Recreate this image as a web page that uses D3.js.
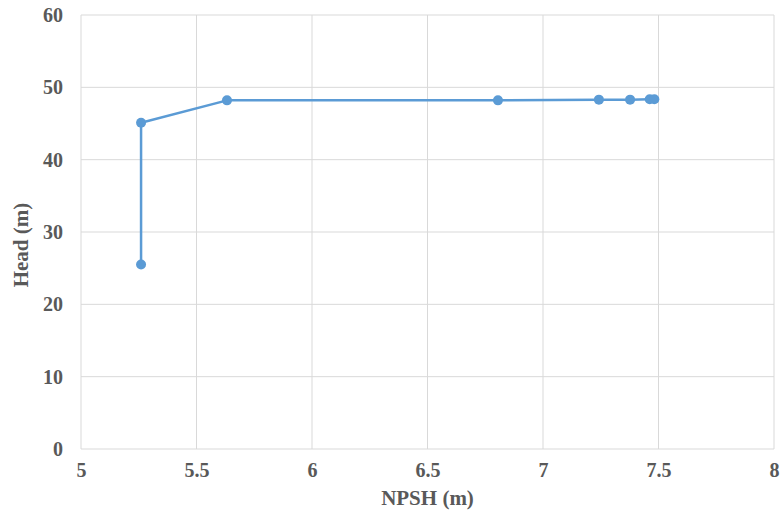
<!DOCTYPE html>
<html>
<head>
<meta charset="utf-8">
<script src="https://cdn.jsdelivr.net/npm/d3@7"></script>
<style>
  html, body { margin: 0; padding: 0; background: #fff; }
  svg { display: block; }
</style>
</head>
<body>
<svg id="chart" width="781" height="515"></svg>
<script>
// Data
const npsh = [5.26, 5.26, 5.632, 6.805, 7.242, 7.377, 7.462, 7.482];
const head = [25.5, 45.1, 48.2, 48.2, 48.3, 48.3, 48.35, 48.35];
const xTicks = [5, 5.5, 6, 6.5, 7, 7.5, 8];
const yTicks = [0, 10, 20, 30, 40, 50, 60];
const xTitle = "NPSH (m)";
const yTitle = "Head (m)";

(function () {
const svg = d3.select("#chart");
const mLeft = 81, mRight = 774, mTop = 15, mBottom = 449;

const x = d3.scaleLinear().domain([5, 8]).range([mLeft, mRight]);
const y = d3.scaleLinear().domain([0, 60]).range([mBottom, mTop]);

const font = "'Liberation Serif', 'Times New Roman', serif";
const grey = "#595959";
const gridCol = "#d9d9d9";

// gridlines
svg.append("g").selectAll("line").data(xTicks).join("line")
  .attr("x1", d => x(d)).attr("x2", d => x(d))
  .attr("y1", mTop).attr("y2", mBottom)
  .attr("stroke", gridCol).attr("stroke-width", 1);
svg.append("g").selectAll("line").data(yTicks).join("line")
  .attr("x1", mLeft).attr("x2", mRight)
  .attr("y1", d => y(d)).attr("y2", d => y(d))
  .attr("stroke", gridCol).attr("stroke-width", 1);

// axes (labels only)
const xAxis = d3.axisBottom(x).tickValues(xTicks).tickSize(0).tickPadding(14).tickFormat(d3.format("~g"));
const gx = svg.append("g").attr("transform", `translate(0,${mBottom})`).call(xAxis);
gx.select(".domain").remove();
gx.selectAll("text").attr("font-family", font).attr("font-weight", "bold")
  .attr("font-size", 20).attr("fill", grey);

const yAxis = d3.axisLeft(y).tickValues(yTicks).tickSize(0).tickPadding(18).tickFormat(d3.format("~g"));
const gy = svg.append("g").attr("transform", `translate(${mLeft},0)`).call(yAxis);
gy.select(".domain").remove();
gy.selectAll("text").attr("font-family", font).attr("font-weight", "bold")
  .attr("font-size", 20).attr("fill", grey);

// titles
svg.append("text").attr("x", (mLeft + mRight) / 2).attr("y", 505)
  .attr("text-anchor", "middle").attr("font-family", font).attr("font-weight", "bold")
  .attr("font-size", 21).attr("fill", grey).text(xTitle);
svg.append("text").attr("transform", `translate(28,245) rotate(-90)`)
  .attr("text-anchor", "middle").attr("font-family", font).attr("font-weight", "bold")
  .attr("font-size", 21).attr("fill", grey).text(yTitle);

// series
const pts = npsh.map((v, i) => [v, head[i]]);
const color = "#5b9bd5";
svg.append("path").datum(pts)
  .attr("d", d3.line().x(d => x(d[0])).y(d => y(d[1])))
  .attr("fill", "none").attr("stroke", color).attr("stroke-width", 2.5)
  .attr("stroke-linejoin", "round");
svg.append("g").selectAll("circle").data(pts).join("circle")
  .attr("cx", d => x(d[0])).attr("cy", d => y(d[1])).attr("r", 5)
  .attr("fill", color);
})();
</script>
</body>
</html>
